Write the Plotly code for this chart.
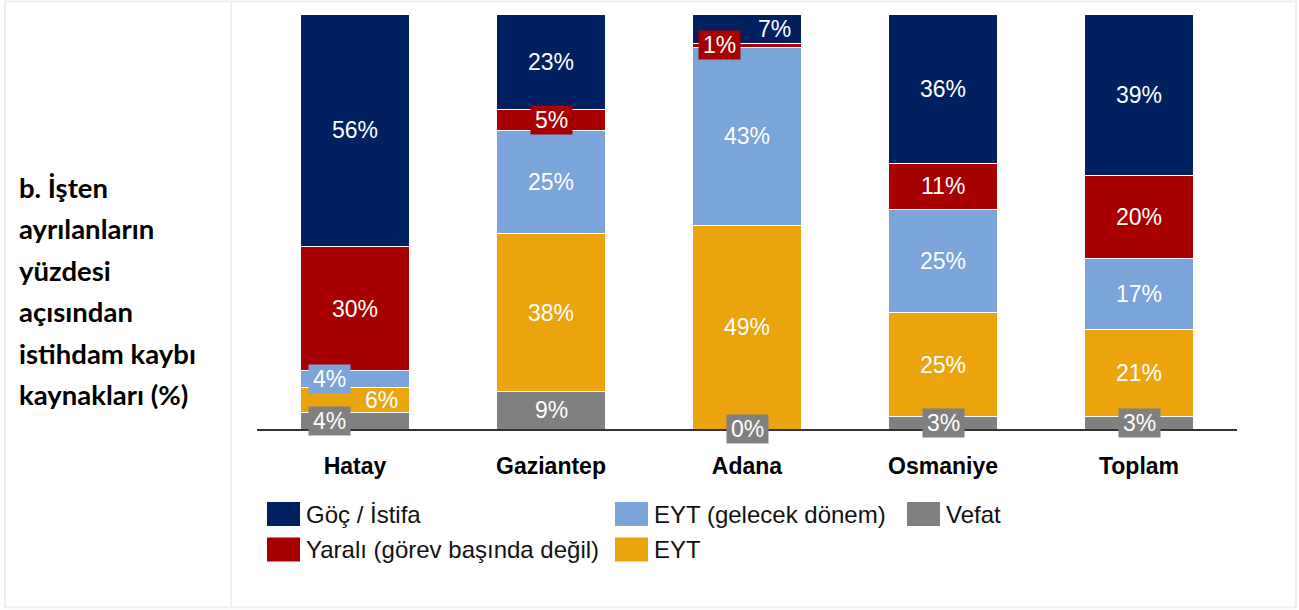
import plotly.graph_objects as go

# ---------------- data ----------------
categories = ["Hatay", "Gaziantep", "Adana", "Osmaniye", "Toplam"]

# stacked from bottom to top
vefat = [4, 9, 0, 3, 3]
eyt = [6, 38, 49, 25, 21]
eyt_gelecek = [4, 25, 43, 25, 17]
yarali = [30, 5, 1, 11, 20]
goc_istifa = [56, 23, 7, 36, 39]

series_names = ["Vefat", "EYT", "EYT (gelecek dönem)",
                "Yaralı (görev başında değil)", "Göç / İstifa"]
series_values = [vefat, eyt, eyt_gelecek, yarali, goc_istifa]

side_title_lines = ["b. İşten", "ayrılanların", "yüzdesi", "açısından",
                    "istihdam kaybı", "kaynakları (%)"]

# ---------------- style ----------------
colors = {
    "Vefat": "#808080",
    "EYT": "#EBA40E",
    "EYT (gelecek dönem)": "#7BA4DA",
    "Yaralı (görev başında değil)": "#A80000",
    "Göç / İstifa": "#002060",
}
legend_order = ["Göç / İstifa", "Yaralı (görev başında değil)",
                "EYT (gelecek dönem)", "EYT", "Vefat"]
legend_col_x = [267, 615, 907]
legend_row_y = [514, 549.5]

# horizontal offsets (px) for labels that are moved sideways
label_dx = {
    ("Hatay", "EYT (gelecek dönem)"): -26,
    ("Hatay", "EYT"): 26,
    ("Hatay", "Vefat"): -26,
    ("Adana", "Yaralı (görev başında değil)"): -28,
    ("Adana", "Göç / İstifa"): 27,
}
BOX_MAX = 5  # labels of segments this small get a filled box

W, H = 1299, 610
L, R, T, B = 257, 62, 14, 181
PW, PH = W - L - R, H - T - B

def px(x):
    return (x - L) / PW

def py(y):
    return (T + PH - y) / PH

FONT = "Liberation Sans, Arial, sans-serif"

fig = go.Figure()
for name, vals in zip(series_names, series_values):
    fig.add_trace(go.Bar(
        x=categories, y=vals, name=name,
        marker=dict(color=colors[name], line=dict(color="white", width=1)),
        showlegend=False, hoverinfo="x+y+name",
    ))

annotations = []
# value labels
for ci, cat in enumerate(categories):
    base = 0
    for name, vals in zip(series_names, series_values):
        v = vals[ci]
        mid = base + v / 2
        base += v
        ann = dict(
            x=cat, y=mid, xref="x", yref="y", text=f"{v}%", showarrow=False,
            font=dict(family=FONT, size=23, color="white"),
            xshift=label_dx.get((cat, name), 0),
            xanchor="center", yanchor="middle",
        )
        if v <= BOX_MAX:
            ann.update(bgcolor=colors[name], width=41, height=28, borderpad=0)
        annotations.append(ann)

# side title
line_y = [187, 228.5, 270, 311.5, 353, 394.5]
for txt, yy in zip(side_title_lines, line_y):
    annotations.append(dict(
        x=px(17), y=py(yy), xref="paper", yref="paper", text=txt,
        showarrow=False, xanchor="left", yanchor="middle",
        font=dict(family="Lato, sans-serif", size=27.5, color="black", weight="bold"),
    ))

shapes = []
# legend
for i, name in enumerate(legend_order):
    cx = legend_col_x[i // 2]
    cy = legend_row_y[i % 2]
    shapes.append(dict(type="rect", xref="paper", yref="paper",
                       x0=px(cx), x1=px(cx + 33), y0=py(cy - 12), y1=py(cy + 12),
                       fillcolor=colors[name], line=dict(width=0)))
    annotations.append(dict(
        x=px(cx + 37), y=py(cy), xref="paper", yref="paper", text=name,
        showarrow=False, xanchor="left", yanchor="middle",
        font=dict(family=FONT, size=24, color="#111111"),
    ))

# frame
frame_col = "#EFEFEF"
shapes.append(dict(type="rect", xref="paper", yref="paper",
                   x0=px(5), x1=px(1296), y0=py(1.5), y1=py(607.5),
                   line=dict(color=frame_col, width=2), layer="below"))
shapes.append(dict(type="line", xref="paper", yref="paper",
                   x0=px(231), x1=px(231), y0=py(1.5), y1=py(607.5),
                   line=dict(color=frame_col, width=2), layer="below"))

fig.update_layout(
    width=W, height=H,
    margin=dict(l=L, r=R, t=T, b=B),
    barmode="stack", bargap=0.444,
    plot_bgcolor="white", paper_bgcolor="white",
    annotations=annotations, shapes=shapes,
    xaxis=dict(type="category", showline=True, linecolor="#333333", linewidth=1.5,
               ticks="", showgrid=False, ticklabelstandoff=16,
               tickfont=dict(family=FONT, size=23, color="black", weight="bold")),
    yaxis=dict(range=[0, 100], visible=False, showgrid=False, zeroline=False),
)

fig.write_html(
    "out.html",
    config={"displayModeBar": False},
    post_script="document.body.style.margin='0';document.body.style.overflow='hidden';",
)
